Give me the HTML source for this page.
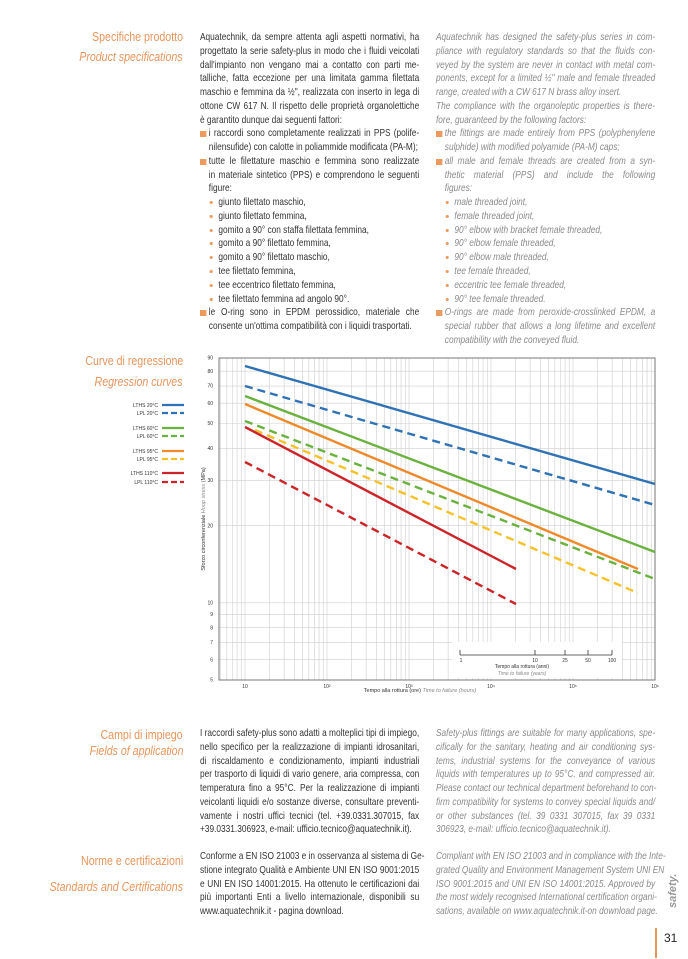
<!DOCTYPE html><html><head><meta charset="utf-8"><style>
body{margin:0;width:688px;height:959px;background:#fff;position:relative;overflow:hidden;font-family:"Liberation Sans",sans-serif;}
.h{position:absolute;right:505px;color:#e8955c;font-size:12.5px;white-space:nowrap;text-align:right;transform:scaleX(0.85);transform-origin:right top}
.i{font-style:italic}
.col{position:absolute;width:274px;font-size:10.4px;line-height:13.76px;color:#333;transform:scaleX(0.8);transform-origin:0 0}
.col.e{color:#8a8a8a;font-style:italic}
.col div{white-space:nowrap;text-align:justify;text-align-last:justify;overflow:visible}
.col div.r{text-align-last:left}
.col .s{padding-left:11px;position:relative}
.col .s::before{content:"";position:absolute;left:0;top:4px;width:7.5px;height:6px;background:#ec9a5e}
.col .d{padding-left:23px;position:relative}
.col .d::before{content:"";position:absolute;left:12px;top:5px;width:4px;height:3px;border-radius:50%;background:#ec9a5e}
.col .c{padding-left:11px}
</style></head><body>
<div class="h" style="top:30px">Specifiche prodotto</div>
<div class="h i" style="top:50px">Product specifications</div>
<div class="h" style="top:354px">Curve di regressione</div>
<div class="h i" style="top:375px">Regression curves</div>
<div class="h" style="top:728px">Campi di impiego</div>
<div class="h i" style="top:744px">Fields of application</div>
<div class="h" style="top:854px">Norme e certificazioni</div>
<div class="h i" style="top:880px">Standards and Certifications</div>

<div class="col" style="left:200px;top:31px">
<div>Aquatechnik, da sempre attenta agli aspetti normativi, ha</div>
<div>progettato la serie safety-plus in modo che i fluidi veicolati</div>
<div>dall'impianto non vengano mai a contatto con parti me-</div>
<div>talliche, fatta eccezione per una limitata gamma filettata</div>
<div>maschio e femmina da ½", realizzata con inserto in lega di</div>
<div>ottone CW 617 N. Il rispetto delle proprietà organolettiche</div>
<div class="r">è garantito dunque dai seguenti fattori:</div>
<div class="s">i raccordi sono completamente realizzati in PPS (polife-</div>
<div class="c r">nilensufide) con calotte in poliammide modificata (PA-M);</div>
<div class="s">tutte le filettature maschio e femmina sono realizzate</div>
<div class="c">in materiale sintetico (PPS) e comprendono le seguenti</div>
<div class="c r">figure:</div>
<div class="d r">giunto filettato maschio,</div>
<div class="d r">giunto filettato femmina,</div>
<div class="d r">gomito a 90° con staffa filettata femmina,</div>
<div class="d r">gomito a 90° filettato femmina,</div>
<div class="d r">gomito a 90° filettato maschio,</div>
<div class="d r">tee filettato femmina,</div>
<div class="d r">tee eccentrico filettato femmina,</div>
<div class="d r">tee filettato femmina ad angolo 90°.</div>
<div class="s">le O-ring sono in EPDM perossidico, materiale che</div>
<div class="c r">consente un'ottima compatibilità con i liquidi trasportati.</div>
</div>

<div class="col e" style="left:436px;top:31px">
<div>Aquatechnik has designed the safety-plus series in com-</div>
<div>pliance with regulatory standards so that the fluids con-</div>
<div>veyed by the system are never in contact with metal com-</div>
<div>ponents, except for a limited ½" male and female threaded</div>
<div class="r">range, created with a CW 617 N brass alloy insert.</div>
<div>The compliance with the organoleptic properties is there-</div>
<div class="r">fore, guaranteed by the following factors:</div>
<div class="s">the fittings are made entirely from PPS (polyphenylene</div>
<div class="c r">sulphide) with modified polyamide (PA-M) caps;</div>
<div class="s">all male and female threads are created from a syn-</div>
<div class="c">thetic material (PPS) and include the following</div>
<div class="c r">figures:</div>
<div class="d r">male threaded joint,</div>
<div class="d r">female threaded joint,</div>
<div class="d r">90° elbow with bracket female threaded,</div>
<div class="d r">90° elbow female threaded,</div>
<div class="d r">90° elbow male threaded,</div>
<div class="d r">tee female threaded,</div>
<div class="d r">eccentric tee female threaded,</div>
<div class="d r">90° tee female threaded.</div>
<div class="s">O-rings are made from peroxide-crosslinked EPDM, a</div>
<div class="c">special rubber that allows a long lifetime and excellent</div>
<div class="c r">compatibility with the conveyed fluid.</div>
</div>

<div class="col" style="left:200px;top:727px">
<div>I raccordi safety-plus sono adatti a molteplici tipi di impiego,</div>
<div>nello specifico per la realizzazione di impianti idrosanitari,</div>
<div>di riscaldamento e condizionamento, impianti industriali</div>
<div>per trasporto di liquidi di vario genere, aria compressa, con</div>
<div>temperatura fino a 95°C. Per la realizzazione di impianti</div>
<div>veicolanti liquidi e/o sostanze diverse, consultare preventi-</div>
<div>vamente i nostri uffici tecnici (tel. +39.0331.307015, fax</div>
<div class="r">+39.0331.306923, e-mail: ufficio.tecnico@aquatechnik.it).</div>
</div>
<div class="col e" style="left:436px;top:727px">
<div>Safety-plus fittings are suitable for many applications, spe-</div>
<div>cifically for the sanitary, heating and air conditioning sys-</div>
<div>tems, industrial systems for the conveyance of various</div>
<div>liquids with temperatures up to 95°C. and compressed air.</div>
<div>Please contact our technical department beforehand to con-</div>
<div>firm compatibility for systems to convey special liquids and/</div>
<div>or other substances (tel. 39 0331 307015, fax 39 0331</div>
<div class="r">306923, e-mail: ufficio.tecnico@aquatechnik.it).</div>
</div>
<div class="col" style="left:200px;top:850px">
<div>Conforme a EN ISO 21003 e in osservanza al sistema di Ge-</div>
<div>stione integrato Qualità e Ambiente UNI EN ISO 9001:2015</div>
<div>e UNI EN ISO 14001:2015. Ha ottenuto le certificazioni dai</div>
<div>più importanti Enti a livello internazionale, disponibili su</div>
<div class="r">www.aquatechnik.it - pagina download.</div>
</div>
<div class="col e" style="left:436px;top:850px">
<div>Compliant with EN ISO 21003 and in compliance with the Inte-</div>
<div>grated Quality and Environment Management System UNI EN</div>
<div>ISO 9001:2015 and UNI EN ISO 14001:2015. Approved by</div>
<div>the most widely recognised International certification organi-</div>
<div class="r">sations, available on www.aquatechnik.it-on download page.</div>
</div>

<div style="position:absolute;left:667px;top:908px;transform:rotate(-90deg);transform-origin:left top;color:#999;font-weight:bold;font-style:italic;font-size:11px">safety.</div>
<div style="position:absolute;left:655px;top:928px;width:2px;height:30px;background:#e8955c"></div>
<div style="position:absolute;left:664px;top:931px;font-size:12px;color:#222">31</div>

<svg width="688" height="959" style="position:absolute;left:0;top:0" font-family="Liberation Sans,sans-serif">
<g id="grid" stroke="#cfcfcf" stroke-width="0.6"></g>
<rect x="219" y="358" width="436" height="322" fill="none" stroke="#777" stroke-width="1"/>
<g id="lab" font-size="5" fill="#333"></g>
<g stroke-width="2.4" fill="none">
<line x1="245" y1="366" x2="655" y2="484" stroke="#2f72b5"/>
<line x1="245" y1="386" x2="655" y2="505" stroke="#2f72b5" stroke-dasharray="8,5"/>
<line x1="245" y1="396" x2="655" y2="552" stroke="#6ab23d"/>
<line x1="245" y1="421" x2="655" y2="579" stroke="#6ab23d" stroke-dasharray="8,5"/>
<line x1="245" y1="404" x2="638" y2="569" stroke="#ee8a2a"/>
<line x1="255" y1="430" x2="638" y2="593" stroke="#f5c22a" stroke-dasharray="8,5"/>
<line x1="245" y1="427" x2="516" y2="569" stroke="#cc2428"/>
<line x1="245" y1="462" x2="516" y2="604" stroke="#cc2428" stroke-dasharray="8,5"/>
</g>
<rect x="452" y="642" width="170" height="36" fill="#fff"/>
<g stroke="#333" stroke-width="0.8"><line x1="460" y1="655" x2="612" y2="655"/><line x1="460" y1="650" x2="460" y2="655"/><line x1="535" y1="650" x2="535" y2="655"/><line x1="565" y1="650" x2="565" y2="655"/><line x1="588" y1="650" x2="588" y2="655"/><line x1="612" y1="650" x2="612" y2="655"/></g>
<g font-size="5" fill="#333" text-anchor="middle"><text x="461" y="662">1</text><text x="535" y="662">10</text><text x="565" y="662">25</text><text x="588" y="662">50</text><text x="612" y="662">100</text>
<text x="522" y="668">Tempo alla rottura (anni)</text><text x="522" y="675" fill="#888" font-style="italic">Time to failure (years)</text>
<text x="420" y="692" font-size="5.5">Tempo alla rottura (ore) <tspan fill="#888" font-style="italic">Time to failure (hours)</tspan></text></g>
<text transform="translate(205,519) rotate(-90)" text-anchor="middle" font-size="5.5" fill="#333">Sforzo circonferenziale <tspan fill="#888" font-style="italic">Hoop stress</tspan> (MPa)</text>
<g font-size="5" fill="#333" text-anchor="end">
<text x="158" y="407">LTHS 20°C</text><text x="158" y="415">LPL 20°C</text>
<text x="158" y="430">LTHS 60°C</text><text x="158" y="438">LPL 60°C</text>
<text x="158" y="453">LTHS 95°C</text><text x="158" y="461">LPL 95°C</text>
<text x="158" y="475">LTHS 110°C</text><text x="158" y="484">LPL 110°C</text></g>
<g stroke-width="2.2">
<line x1="162" y1="405" x2="184" y2="405" stroke="#2f72b5"/><line x1="162" y1="413" x2="184" y2="413" stroke="#2f72b5" stroke-dasharray="6,3"/>
<line x1="162" y1="428" x2="184" y2="428" stroke="#6ab23d"/><line x1="162" y1="436" x2="184" y2="436" stroke="#6ab23d" stroke-dasharray="6,3"/>
<line x1="162" y1="451" x2="184" y2="451" stroke="#ee8a2a"/><line x1="162" y1="459" x2="184" y2="459" stroke="#f5c22a" stroke-dasharray="6,3"/>
<line x1="162" y1="473" x2="184" y2="473" stroke="#cc2428"/><line x1="162" y1="482" x2="184" y2="482" stroke="#cc2428" stroke-dasharray="6,3"/></g>
</svg>
<script>
var g=document.getElementById('grid'),L=document.getElementById('lab'),ns='http://www.w3.org/2000/svg';
function X(h){return 245+82*(Math.log10(h)-1)}function Y(v){return 680-256.5*Math.log10(v/5)}
function ln(a,b,c,d){var e=document.createElementNS(ns,'line');e.setAttribute('x1',a);e.setAttribute('y1',b);e.setAttribute('x2',c);e.setAttribute('y2',d);g.appendChild(e)}
function tx(x,y,t,a){var e=document.createElementNS(ns,'text');e.setAttribute('x',x);e.setAttribute('y',y);e.setAttribute('text-anchor',a);e.textContent=t;L.appendChild(e)}
for(var p=0;p<=6;p++)for(var m=1;m<10;m++){var x=X(m*Math.pow(10,p));if(x>219&&x<655)ln(x,358,x,680)}
[5,6,7,8,9,10,20,30,40,50,60,70,80,90].forEach(function(v){var y=Y(v);ln(219,y,655,y);tx(213,y+1.7,v,'end')});
var sup=['','¹','²','³','⁴','⁵','⁶'];
for(var p=1;p<=6;p++)tx(X(Math.pow(10,p)),688,p==1?'10':'10'+sup[p],'middle');
</script>
</body></html>
